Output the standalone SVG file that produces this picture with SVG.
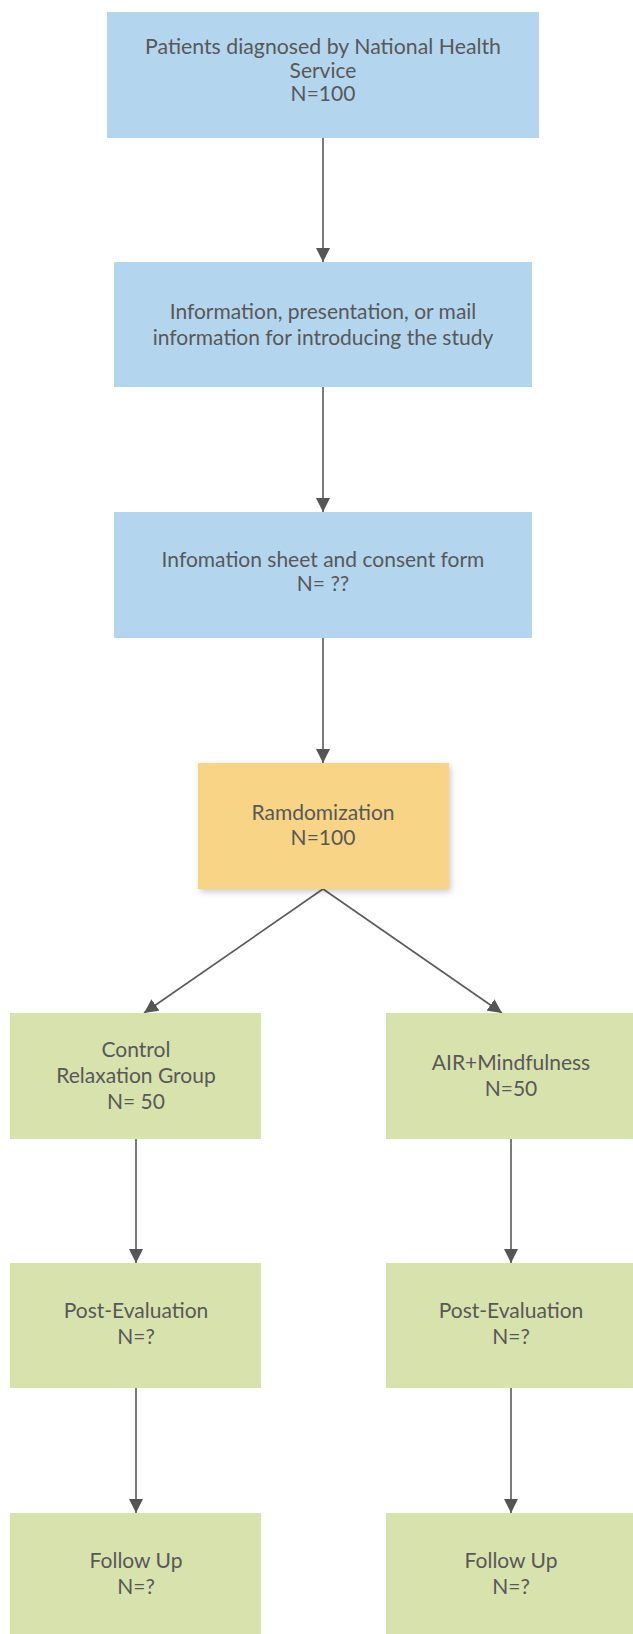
<svg xmlns="http://www.w3.org/2000/svg" width="633" height="1634" viewBox="0 0 633 1634">
<style>
.blue{fill:#b3d6ee}
.orange{fill:#f8d486}
.green{fill:#d8e2ad}
.t{font-family:Lato,"Liberation Sans",sans-serif;font-size:21px;fill:#585858;text-anchor:middle}
.c{stroke:#5a5a5a;stroke-width:1.6;fill:none}
</style>
<defs>
<marker id="ah" viewBox="0 0 14 14" refX="14" refY="7" markerWidth="14" markerHeight="14" markerUnits="userSpaceOnUse" orient="auto">
<path d="M0,0 L14,7 L0,14 Z" fill="#555555"/>
</marker>
<filter id="sh" x="-10%" y="-10%" width="125%" height="130%">
<feDropShadow dx="2" dy="3" stdDeviation="3" flood-color="#000" flood-opacity="0.2"/>
</filter>
</defs>
<rect width="633" height="1634" fill="#ffffff"/>
<g id="connectors">
<line class="c" x1="323" y1="138" x2="323" y2="262" marker-end="url(#ah)"/>
<line class="c" x1="323" y1="387" x2="323" y2="512" marker-end="url(#ah)"/>
<line class="c" x1="323" y1="638" x2="323" y2="763" marker-end="url(#ah)"/>
<line class="c" x1="323" y1="889" x2="144" y2="1013" marker-end="url(#ah)"/>
<line class="c" x1="323" y1="889" x2="502" y2="1013" marker-end="url(#ah)"/>
<line class="c" x1="136" y1="1139" x2="136" y2="1263" marker-end="url(#ah)"/>
<line class="c" x1="511" y1="1139" x2="511" y2="1263" marker-end="url(#ah)"/>
<line class="c" x1="136" y1="1388" x2="136" y2="1513" marker-end="url(#ah)"/>
<line class="c" x1="511" y1="1388" x2="511" y2="1513" marker-end="url(#ah)"/>
</g>
<g id="n1">
<rect class="blue" x="107" y="12" width="432" height="126"/>
<text class="t" x="323" y="54" textLength="356" lengthAdjust="spacingAndGlyphs">Patients diagnosed by National Health</text>
<text class="t" x="323" y="78">Service</text>
<text class="t" x="323" y="101">N=100</text>
</g>
<g id="n2">
<rect class="blue" x="114" y="262" width="418" height="125"/>
<text class="t" x="323" y="319">Information, presentation, or mail</text>
<text class="t" x="323" y="345">information for introducing the study</text>
</g>
<g id="n3">
<rect class="blue" x="114" y="512" width="418" height="126"/>
<text class="t" x="323" y="567">Infomation sheet and consent form</text>
<text class="t" x="323" y="591">N= ??</text>
</g>
<g id="n4">
<rect class="orange" x="198" y="763" width="251" height="126" filter="url(#sh)"/>
<text class="t" x="323" y="820">Ramdomization</text>
<text class="t" x="323" y="845">N=100</text>
</g>
<g id="n5">
<rect class="green" x="10" y="1013" width="251" height="126"/>
<text class="t" x="136" y="1057">Control</text>
<text class="t" x="136" y="1083">Relaxation Group</text>
<text class="t" x="136" y="1109">N= 50</text>
</g>
<g id="n6">
<rect class="green" x="386" y="1013" width="250" height="126"/>
<text class="t" x="511" y="1070">AIR+Mindfulness</text>
<text class="t" x="511" y="1096">N=50</text>
</g>
<g id="n7">
<rect class="green" x="10" y="1263" width="251" height="125"/>
<text class="t" x="136" y="1318">Post-Evaluation</text>
<text class="t" x="136" y="1344">N=?</text>
</g>
<g id="n8">
<rect class="green" x="386" y="1263" width="250" height="125"/>
<text class="t" x="511" y="1318">Post-Evaluation</text>
<text class="t" x="511" y="1344">N=?</text>
</g>
<g id="n9">
<rect class="green" x="10" y="1513" width="251" height="125"/>
<text class="t" x="136" y="1568">Follow Up</text>
<text class="t" x="136" y="1594">N=?</text>
</g>
<g id="n10">
<rect class="green" x="386" y="1513" width="250" height="125"/>
<text class="t" x="511" y="1568">Follow Up</text>
<text class="t" x="511" y="1594">N=?</text>
</g>
</svg>
